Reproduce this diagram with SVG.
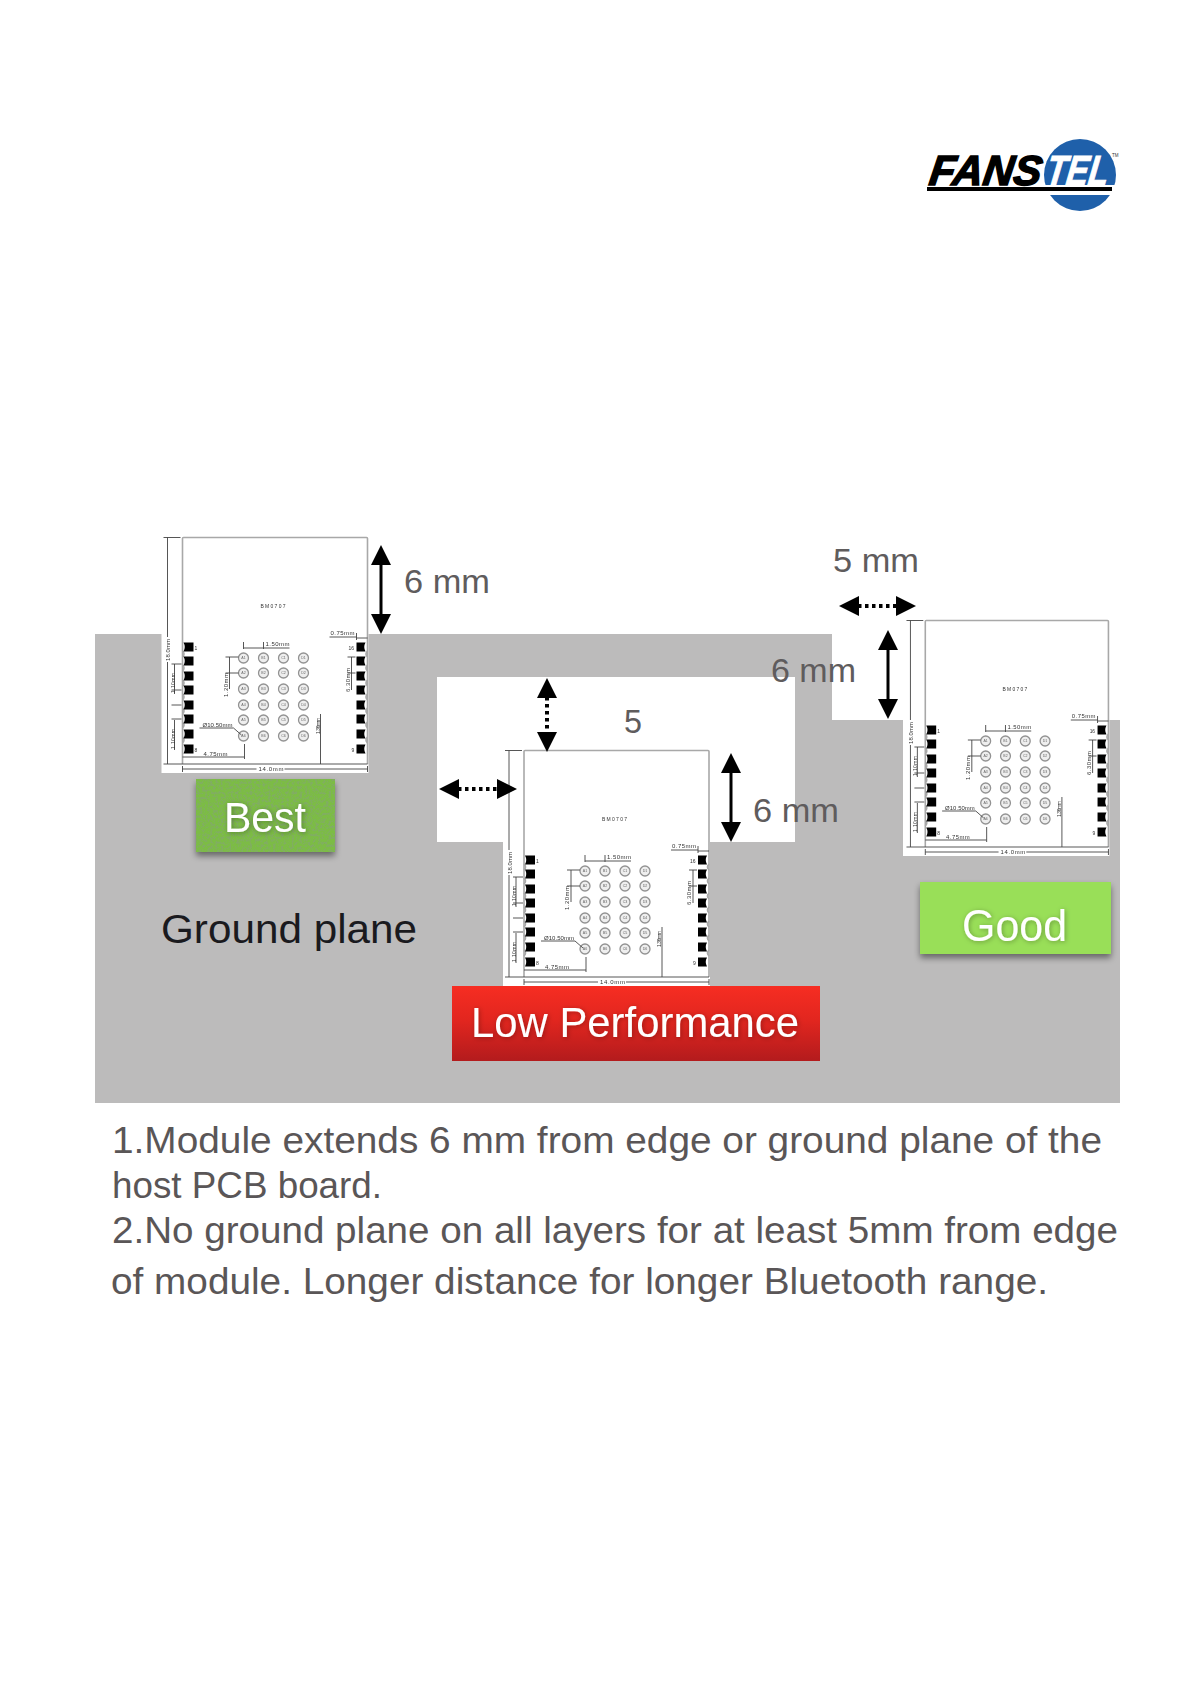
<svg xmlns="http://www.w3.org/2000/svg" xmlns:xlink="http://www.w3.org/1999/xlink" width="1191" height="1685" viewBox="0 0 1191 1685">
<style>
text{font-family:"Liberation Sans",Arial,sans-serif;font-weight:400}
.note{font-size:37px;fill:#5a5657}
.dim{font-size:33px;fill:#5f5c5d}
.tag{font-size:42px;fill:#fff;filter:url(#tshadow)}
.gnd{font-size:41px;fill:#1a1a1e}
.solid{fill:none;stroke:#000;stroke-width:3;marker-start:url(#head);marker-end:url(#head)}
.dotted{fill:none;stroke:#000;stroke-width:4;stroke-dasharray:3.5 3.5;marker-start:url(#head);marker-end:url(#head)}
.mod text{font-size:6px;fill:#333}
.mod .b text{font-size:3.6px;fill:#666;text-anchor:middle}
.o{fill:none;stroke:#a8a8a8;stroke-width:1.6}
.l{fill:none;stroke:#444;stroke-width:.9}
.c{fill:#eee;stroke:#929292;stroke-width:1.300}
.logo text{font-weight:700;font-style:italic}
</style>
<defs>
<marker id="head" viewBox="0 0 20 20" markerUnits="userSpaceOnUse" markerWidth="20" markerHeight="20" refX="1" refY="10" orient="auto-start-reverse"><path d="M0 0L20 10L0 20z" fill="#000"/></marker>
<linearGradient id="red" x1="0" y1="0" x2="0" y2="1"><stop offset="0" stop-color="#f62d22"/><stop offset=".45" stop-color="#e2261f"/><stop offset="1" stop-color="#b31b1d"/></linearGradient>
<filter id="soft" x="-2%" y="-2%" width="104%" height="104%"><feGaussianBlur stdDeviation=".45"/></filter>
<filter id="tshadow" x="-10%" y="-20%" width="120%" height="140%"><feDropShadow dx="1" dy="1" stdDeviation="2.500" flood-color="#000" flood-opacity=".3"/></filter>
<filter id="shadow" x="-10%" y="-10%" width="120%" height="130%"><feDropShadow dx="0" dy="4" stdDeviation="3" flood-color="#000" flood-opacity=".45"/></filter>
<filter id="grass" x="-10%" y="-10%" width="120%" height="130%">
<feTurbulence type="fractalNoise" baseFrequency=".38" numOctaves="2" seed="4" result="n"/>
<feColorMatrix in="n" type="matrix" values="0 0 0 0 .22  0 0 0 0 .42  0 0 0 0 .12  5 0 0 0 -2.300" result="d"/>
<feComposite in="d" in2="SourceAlpha" operator="in" result="t"/>
<feDropShadow in="SourceGraphic" dx="0" dy="4" stdDeviation="3" flood-color="#000" flood-opacity=".45" result="s"/>
<feMerge><feMergeNode in="s"/><feMergeNode in="t"/></feMerge>
</filter>
<path id="pl" d="M0 -4.500H10V4.500H0Q2.500 0 0 -4.500z" fill="#000"/>
<path id="pr" d="M0 -4.500H9Q6.500 0 9 4.500H0z" fill="#000"/>
<g id="module" class="mod" filter="url(#soft)">
<rect x="0" y="0" width="207" height="236" fill="#fff"/>
<path class="o" d="M21 227V1.500Q21 .5 22 .5H205Q206 .5 206 1.500V227"/>
<path class="o" d="M21 114q3 3 0 6m0 8q3 3 0 6m0 9q3 3 0 6m0 8q3 3 0 6m0 8q3 3 0 6m0 8q3 3 0 6m0 9q3 3 0 6"/>
<path class="o" d="M206 114q-3 3 0 6m0 8q-3 3 0 6m0 9q-3 3 0 6m0 8q-3 3 0 6m0 8q-3 3 0 6m0 8q-3 3 0 6m0 9q-3 3 0 6"/>
<use href="#pl" x="22" y="110"/><use href="#pl" x="22" y="124"/><use href="#pl" x="22" y="139"/><use href="#pl" x="22" y="153"/><use href="#pl" x="22" y="168"/><use href="#pl" x="22" y="182"/><use href="#pl" x="22" y="197"/><use href="#pl" x="22" y="212"/>
<use href="#pr" x="195" y="110"/><use href="#pr" x="195" y="124"/><use href="#pr" x="195" y="139"/><use href="#pr" x="195" y="153"/><use href="#pr" x="195" y="168"/><use href="#pr" x="195" y="182"/><use href="#pr" x="195" y="197"/><use href="#pr" x="195" y="212"/>
<g class="b">
<circle class="c" cx="82" cy="121" r="5"/><circle class="c" cx="102" cy="121" r="5"/><circle class="c" cx="122" cy="121" r="5"/><circle class="c" cx="142" cy="121" r="5"/>
<circle class="c" cx="82" cy="136" r="5"/><circle class="c" cx="102" cy="136" r="5"/><circle class="c" cx="122" cy="136" r="5"/><circle class="c" cx="142" cy="136" r="5"/>
<circle class="c" cx="82" cy="152" r="5"/><circle class="c" cx="102" cy="152" r="5"/><circle class="c" cx="122" cy="152" r="5"/><circle class="c" cx="142" cy="152" r="5"/>
<circle class="c" cx="82" cy="168" r="5"/><circle class="c" cx="102" cy="168" r="5"/><circle class="c" cx="122" cy="168" r="5"/><circle class="c" cx="142" cy="168" r="5"/>
<circle class="c" cx="82" cy="183" r="5"/><circle class="c" cx="102" cy="183" r="5"/><circle class="c" cx="122" cy="183" r="5"/><circle class="c" cx="142" cy="183" r="5"/>
<circle class="c" cx="82" cy="199" r="5"/><circle class="c" cx="102" cy="199" r="5"/><circle class="c" cx="122" cy="199" r="5"/><circle class="c" cx="142" cy="199" r="5"/>
<text x="82" y="122.300">A1</text><text x="102" y="122.300">B1</text><text x="122" y="122.300">C1</text><text x="142" y="122.300">D1</text>
<text x="82" y="137.300">A2</text><text x="102" y="137.300">B2</text><text x="122" y="137.300">C2</text><text x="142" y="137.300">D2</text>
<text x="82" y="153.300">A3</text><text x="102" y="153.300">B3</text><text x="122" y="153.300">C3</text><text x="142" y="153.300">D3</text>
<text x="82" y="169.300">A4</text><text x="102" y="169.300">B4</text><text x="122" y="169.300">C4</text><text x="142" y="169.300">D4</text>
<text x="82" y="184.300">A5</text><text x="102" y="184.300">B5</text><text x="122" y="184.300">C5</text><text x="142" y="184.300">D5</text>
<text x="82" y="200.300">A6</text><text x="102" y="200.300">B6</text><text x="122" y="200.300">C6</text><text x="142" y="200.300">D6</text>
</g>
<path class="l" d="M2 .5H19M6 .5V100M6 125V227M2 227H206M21 232H206M21 229V235M206 229V235"/>
<path class="l" d="M82 105V112M82 111H102M102 105V112M102 111H128"/>
<path class="l" d="M168 100H195M195 101H206M195 96V103"/>
<path class="l" d="M64 120H77M64 136H77M68 120V152"/>
<path class="l" d="M13 127V157M13 183V213M10 153H20M10 168H20M10 127H20M10 182H20"/>
<path class="l" d="M38 191H72L80 198"/>
<path class="l" d="M21 220H83M83 207V222"/>
<path class="l" d="M159 177V227"/>
<path class="l" d="M190 120V153M186 120H194M186 136H194"/>
<rect x="95" y="229" width="28" height="6" fill="#fff"/>
<text x="99" y="71" style="font-size:5px" textLength="25">BM0707</text>
<text x="104" y="109" textLength="24">1.50mm</text>
<text x="169" y="98" textLength="24">0.75mm</text>
<text x="41" y="190" textLength="30">Ø10.50mm</text>
<text x="42" y="219" textLength="24">4.75mm</text>
<text x="97" y="234" textLength="25">14.0mm</text>
<text x="33" y="113" style="font-size:5px">1</text><text x="33" y="215" style="font-size:5px">8</text>
<text x="187" y="113" style="font-size:5px">16</text><text x="190" y="215" style="font-size:5px">9</text>
<text transform="translate(8.500 124) rotate(-90)" textLength="22">18.0mm</text>
<text transform="translate(13 156) rotate(-90)" style="font-size:5px" textLength="20">1.10mm</text>
<text transform="translate(13 212) rotate(-90)" style="font-size:5px" textLength="20">1.10mm</text>
<text transform="translate(66 160) rotate(-90)" textLength="24">1.20mm</text>
<text transform="translate(158 197) rotate(-90)" style="font-size:5px" textLength="16">1.36mm</text>
<text transform="translate(188 155) rotate(-90)" textLength="24">6.30mm</text>
</g>
</defs>
<rect width="1191" height="1685" fill="#fff"/>
<g id="logo" class="logo">
<circle cx="1080" cy="175" r="36" fill="#1f60aa"/>
<rect x="1036" y="185" width="84" height="10" fill="#fff"/>
<text transform="translate(928 185) skewX(-8)" font-size="42" fill="#000" stroke="#000" stroke-width="1.500" textLength="112" lengthAdjust="spacingAndGlyphs">FANS</text>
<text transform="translate(1045 185) skewX(-8)" font-size="42" fill="#fff" stroke="#fff" stroke-width="1" textLength="62" lengthAdjust="spacingAndGlyphs">TEL</text>
<rect x="927" y="187" width="185" height="4" fill="#000"/>
<text x="1112" y="157" font-size="4.500" fill="#333" style="font-weight:400;font-style:normal">TM</text>
</g>
<path id="ground-plane" fill="#bcbbbb" d="M95 634H832V720H1120V1103H95z"/>
<rect id="keepout-middle" x="437" y="677" width="358" height="165" fill="#fff"/>
<g id="node-module-left"><use href="#module" transform="translate(161.500 537)"/></g>
<g id="node-module-middle"><use href="#module" transform="translate(503 750)"/></g>
<g id="node-module-right"><rect x="903" y="620" width="4" height="236" fill="#fff"/><use href="#module" transform="translate(904.500 620) scale(.99 1)"/></g>
<g id="node-best"><rect x="196" y="779" width="139" height="73" fill="#7cbc44" filter="url(#grass)"/><text class="tag" x="224" y="832" textLength="82" lengthAdjust="spacingAndGlyphs">Best</text></g>
<g id="node-low"><rect x="452" y="986" width="368" height="75" fill="url(#red)"/><text class="tag" x="471" y="1037" textLength="328" lengthAdjust="spacingAndGlyphs">Low Performance</text></g>
<g id="node-good"><rect x="920" y="882" width="191" height="72" fill="#99df59" filter="url(#shadow)"/><text class="tag" style="font-size:44px" x="962" y="941" textLength="105" lengthAdjust="spacingAndGlyphs">Good</text></g>
<g id="node-ground-label"><text class="gnd" x="161" y="943" textLength="256" lengthAdjust="spacingAndGlyphs">Ground plane</text></g>
<g id="connectors">
<path class="solid" d="M381 564V615"/>
<path class="solid" d="M731 772V823"/>
<path class="solid" d="M888 649V700"/>
<path class="dotted" d="M547 697V733"/>
<path class="dotted" d="M458 789H498"/>
<path class="dotted" d="M858 606H897"/>
</g>
<g id="dimensions">
<text class="dim" x="404" y="593" textLength="86" lengthAdjust="spacingAndGlyphs">6 mm</text>
<text class="dim" x="771" y="682" textLength="85" lengthAdjust="spacingAndGlyphs">6 mm</text>
<text class="dim" x="753" y="822" textLength="86" lengthAdjust="spacingAndGlyphs">6 mm</text>
<text class="dim" x="624" y="733" textLength="18" lengthAdjust="spacingAndGlyphs">5</text>
<text class="dim" x="833" y="572" textLength="86" lengthAdjust="spacingAndGlyphs">5 mm</text>
</g>
<g id="notes">
<text class="note" x="112" y="1153" textLength="990" lengthAdjust="spacingAndGlyphs">1.Module extends 6 mm from edge or ground plane of the</text>
<text class="note" x="112" y="1198" textLength="270" lengthAdjust="spacingAndGlyphs">host PCB board.</text>
<text class="note" x="112" y="1243" textLength="1006" lengthAdjust="spacingAndGlyphs">2.No ground plane on all layers for at least 5mm from edge</text>
<text class="note" x="111" y="1294" textLength="937" lengthAdjust="spacingAndGlyphs">of module. Longer distance for longer Bluetooth range.</text>
</g>
</svg>
